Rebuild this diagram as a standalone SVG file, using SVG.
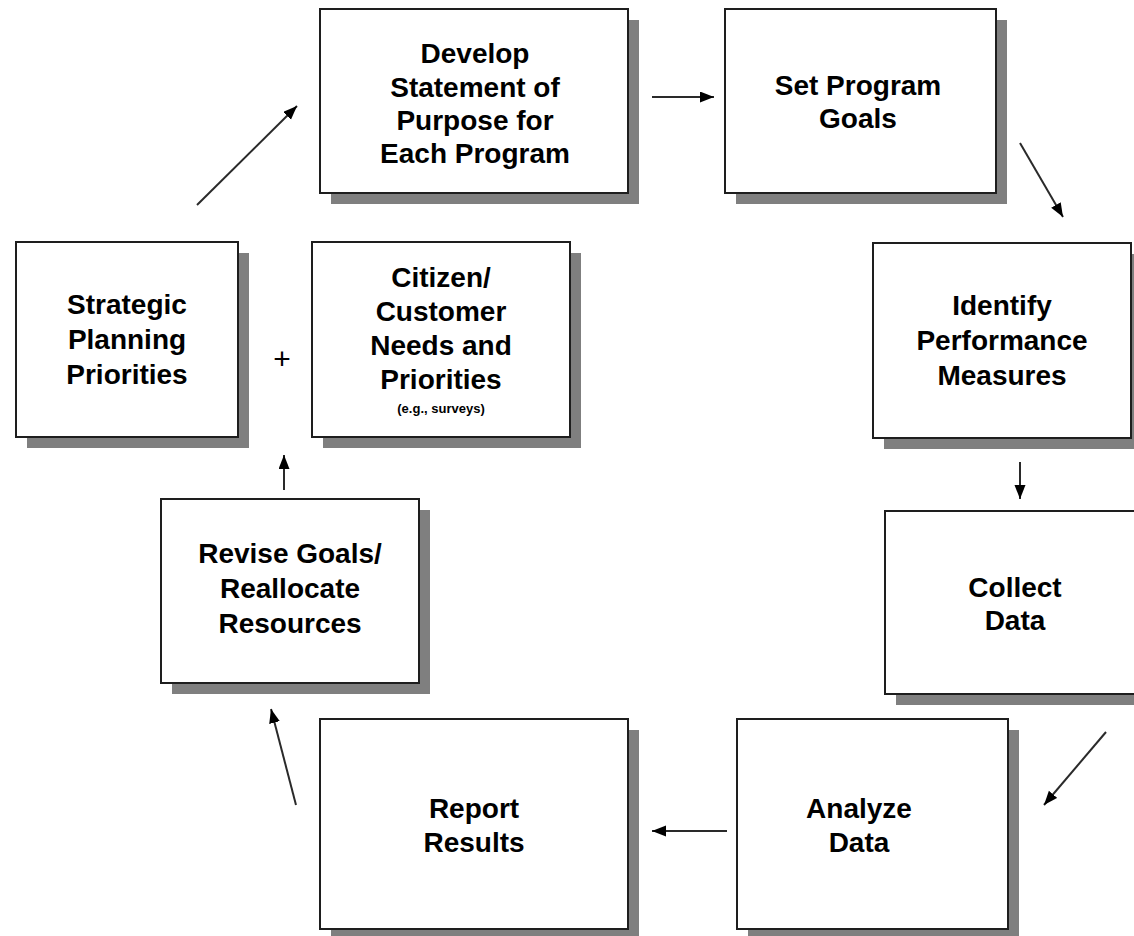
<svg xmlns="http://www.w3.org/2000/svg" width="1134" height="936" viewBox="0 0 1134 936">
  <style>
    .shadow { fill: #7f7f7f; }
    .box { fill: #ffffff; stroke: #1e1e1e; stroke-width: 2; }
    .label { font-family: "Liberation Sans", Arial, sans-serif; font-weight: bold; font-size: 28px; fill: #000; text-anchor: middle; }
    .plus { font-family: "Liberation Sans", Arial, sans-serif; font-weight: normal; font-size: 30px; fill: #000; text-anchor: middle; }
    .note { font-family: "Liberation Sans", Arial, sans-serif; font-weight: bold; font-size: 13px; fill: #000; text-anchor: middle; }
    .edge { stroke: #2a2a2a; stroke-width: 2; fill: none; marker-end: url(#head); }
  </style>
  <defs>
    <marker id="head" markerUnits="userSpaceOnUse" markerWidth="16" markerHeight="14" refX="14" refY="5.5" orient="auto">
      <path d="M0,0 L14,5.5 L0,11 z" fill="#000"/>
    </marker>
  </defs>
  <rect width="1134" height="936" fill="#ffffff"/>

  <g id="develop-purpose">
    <rect class="shadow" x="331" y="20" width="308" height="184"/>
    <rect class="box" x="320" y="9" width="308" height="184"/>
    <text class="label" x="475" y="63">Develop</text>
    <text class="label" x="475" y="97">Statement of</text>
    <text class="label" x="475" y="130">Purpose for</text>
    <text class="label" x="475" y="163">Each Program</text>
  </g>

  <g id="set-goals">
    <rect class="shadow" x="736" y="20" width="271" height="184"/>
    <rect class="box" x="725" y="9" width="271" height="184"/>
    <text class="label" x="858" y="95">Set Program</text>
    <text class="label" x="858" y="128">Goals</text>
  </g>

  <g id="identify-measures">
    <rect class="shadow" x="884" y="254" width="258" height="195"/>
    <rect class="box" x="873" y="243" width="258" height="195"/>
    <text class="label" x="1002" y="315">Identify</text>
    <text class="label" x="1002" y="350">Performance</text>
    <text class="label" x="1002" y="385">Measures</text>
  </g>

  <g id="collect-data">
    <rect class="shadow" x="896" y="522" width="260" height="183"/>
    <rect class="box" x="885" y="511" width="260" height="183"/>
    <text class="label" x="1015" y="597">Collect</text>
    <text class="label" x="1015" y="630">Data</text>
  </g>

  <g id="analyze-data">
    <rect class="shadow" x="748" y="730" width="271" height="210"/>
    <rect class="box" x="737" y="719" width="271" height="210"/>
    <text class="label" x="859" y="818">Analyze</text>
    <text class="label" x="859" y="852">Data</text>
  </g>

  <g id="report-results">
    <rect class="shadow" x="331" y="730" width="308" height="210"/>
    <rect class="box" x="320" y="719" width="308" height="210"/>
    <text class="label" x="474" y="818">Report</text>
    <text class="label" x="474" y="852">Results</text>
  </g>

  <g id="revise-goals">
    <rect class="shadow" x="172" y="510" width="258" height="184"/>
    <rect class="box" x="161" y="499" width="258" height="184"/>
    <text class="label" x="290" y="563">Revise Goals/</text>
    <text class="label" x="290" y="598">Reallocate</text>
    <text class="label" x="290" y="633">Resources</text>
  </g>

  <g id="strategic-priorities">
    <rect class="shadow" x="27" y="253" width="222" height="195"/>
    <rect class="box" x="16" y="242" width="222" height="195"/>
    <text class="label" x="127" y="314">Strategic</text>
    <text class="label" x="127" y="349">Planning</text>
    <text class="label" x="127" y="384">Priorities</text>
  </g>

  <g id="plus-sign">
    <text class="plus" x="282" y="369">+</text>
  </g>

  <g id="citizen-needs">
    <rect class="shadow" x="323" y="253" width="258" height="195"/>
    <rect class="box" x="312" y="242" width="258" height="195"/>
    <text class="label" x="441" y="287">Citizen/</text>
    <text class="label" x="441" y="321">Customer</text>
    <text class="label" x="441" y="355">Needs and</text>
    <text class="label" x="441" y="389">Priorities</text>
    <text class="note" x="441" y="413">(e.g., surveys)</text>
  </g>

  <g id="connectors">
    <line class="edge" x1="652" y1="97" x2="714" y2="97"/>
    <line class="edge" x1="1020" y1="143" x2="1063" y2="217"/>
    <line class="edge" x1="1020" y1="462" x2="1020" y2="499"/>
    <line class="edge" x1="1106" y1="732" x2="1044" y2="805"/>
    <line class="edge" x1="727" y1="831" x2="652" y2="831"/>
    <line class="edge" x1="296" y1="805" x2="271" y2="709"/>
    <line class="edge" x1="284" y1="490" x2="284" y2="455"/>
    <line class="edge" x1="197" y1="205" x2="297" y2="106"/>
  </g>
</svg>
